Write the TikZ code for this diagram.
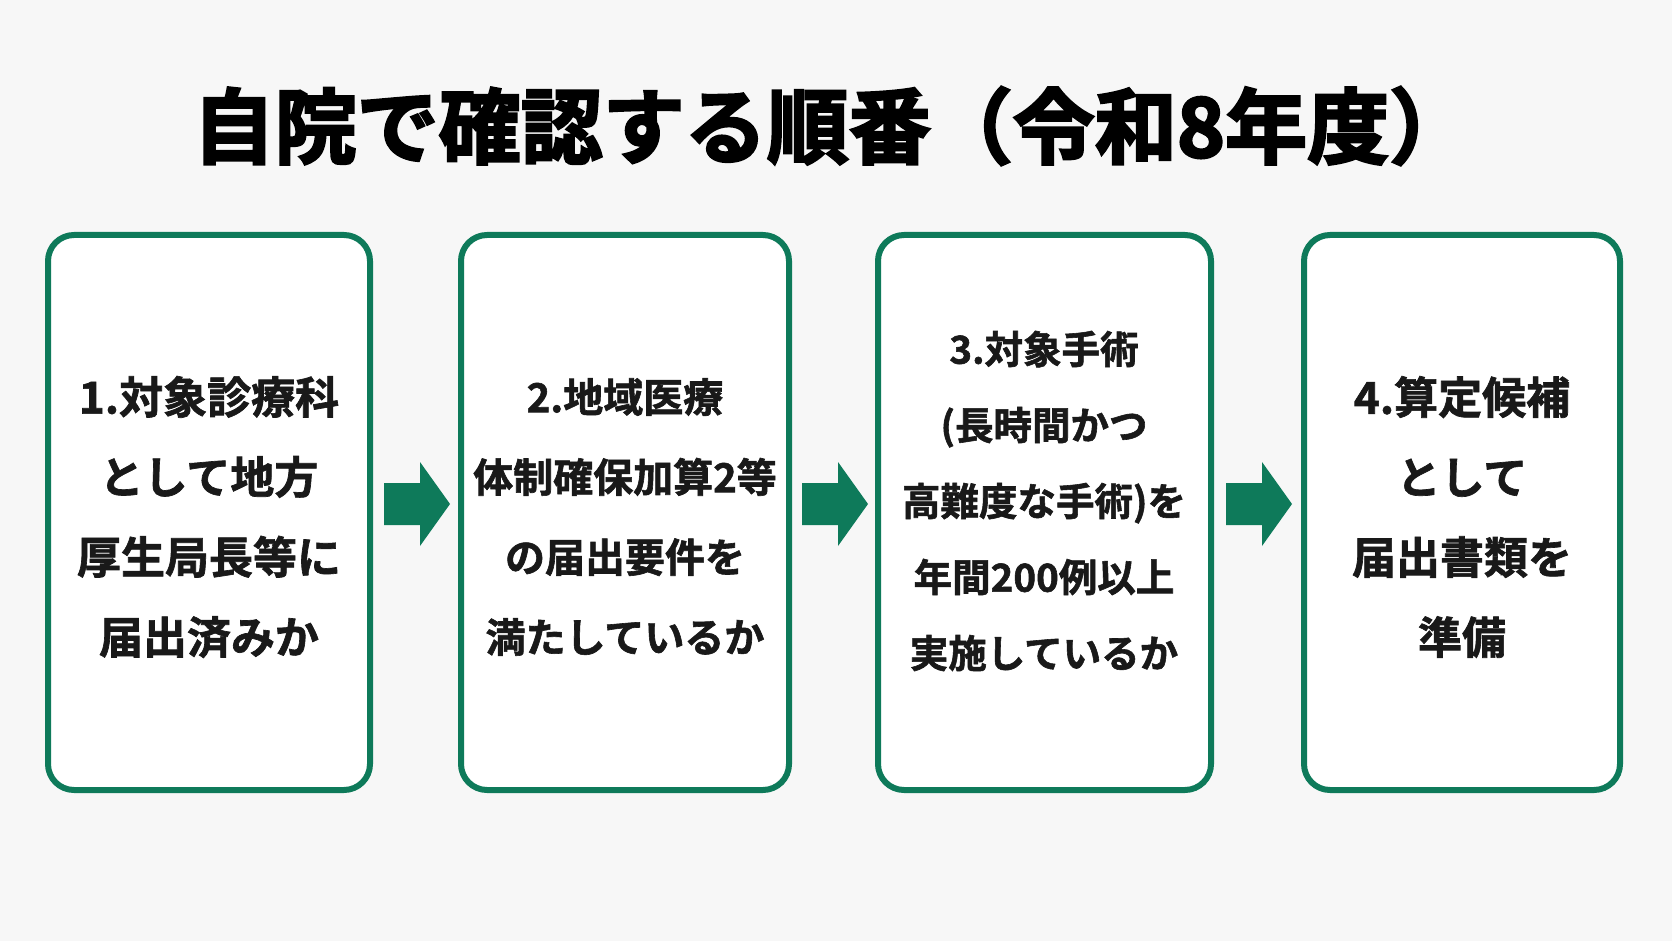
\documentclass[tikz,border=0pt]{standalone}
\usepackage{fontspec}
\newfontfamily\jp[FakeBold=1.5]{Noto Sans CJK JP Bold}
\newfontfamily\jpt[FakeBold=3]{Noto Sans CJK JP Bold}
\definecolor{grn}{HTML}{0E7A5A}
\begin{document}
\begin{tikzpicture}[x=1pt,y=-1pt,
 box/.style={draw=grn,line width=6pt,rounded corners=26pt,fill=white},
 txt/.style={font=\jp\fontsize{44}{80}\selectfont,align=center,text=black!90},
 arr/.style={fill=grn,draw=none}]
\fill[white!97!black] (0,0) rectangle (1672,941);
\useasboundingbox (0,0) rectangle (1672,941);
\node[font=\jpt\fontsize{82}{90}\selectfont] (title) at (832,126) {自院で確認する順番（令和8年度）};
\draw[box] (48,235) rectangle (370,790); \node[txt] (t1) at (209,517) {1.対象診療科\\として地方\\厚生局長等に\\届出済みか};
\draw[box] (461,235) rectangle (789,790); \node[txt,font=\jp\fontsize{40}{80}\selectfont] (t2) at (625,517) {2.地域医療\\体制確保加算2等\\の届出要件を\\満たしているか};
\draw[box] (878,235) rectangle (1211,790); \node[txt,font=\jp\fontsize{38.5}{76}\selectfont] (t3) at (1044,501) {3.対象手術\\(長時間かつ\\高難度な手術)を\\年間200例以上\\実施しているか};
\draw[box] (1304,235) rectangle (1620,790); \node[txt] (t4) at (1462,517) {4.算定候補\\として\\届出書類を\\準備};
\foreach \x/\n in {384/a1,802/a2,1226/a3}{
 \fill[arr] (\x,483) -- (\x+36,483) -- (\x+36,462) -- (\x+66,504) -- (\x+36,546) -- (\x+36,525) -- (\x,525) -- cycle;
 \coordinate (\n) at (\x,504);}
\end{tikzpicture}
\end{document}
